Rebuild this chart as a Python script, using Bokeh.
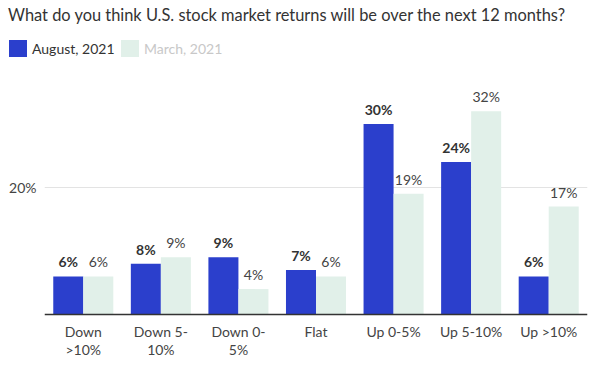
from bokeh.plotting import figure
from bokeh.layouts import column
from bokeh.models import (ColumnDataSource, FactorRange, Range1d, FixedTicker, Span,
                          LabelSet, Div)
from bokeh.core.properties import value
from bokeh.transform import dodge
from bokeh.embed import file_html
from bokeh.resources import INLINE

categories = ["Down >10%", "Down 5-10%", "Down 0-5%", "Flat", "Up 0-5%", "Up 5-10%", "Up >10%"]
tick_line1 = ["Down", "Down 5-", "Down 0-", "Flat", "Up 0-5%", "Up 5-10%", "Up >10%"]
tick_line2 = [">10%", "10%", "5%", "", "", "", ""]
august_2021 = [6, 8, 9, 7, 30, 24, 6]
march_2021 = [6, 9, 4, 6, 19, 32, 17]
y_ticks = [20]
series_names = ["August, 2021", "March, 2021"]
title_text = "What do you think U.S. stock market returns will be over the next 12 months?"

FONT = "Lato"
BLUE = "#2b3fcc"
GREEN = "#e1f0e9"
TXT = "#333333"
LBL = "#444444"

# ---------------- header (title + legend) as HTML ----------------
header_html = f"""
<div style="position:relative;width:592px;height:60px;font-family:'{FONT}',sans-serif;">
  <div style="position:absolute;left:8px;top:4px;font-size:16.4px;line-height:22px;color:{TXT};white-space:nowrap;">{title_text}</div>
  <div style="position:absolute;left:9px;top:40px;width:18px;height:17px;background:{BLUE};"></div>
  <div style="position:absolute;left:32px;top:39px;font-size:14px;line-height:19px;color:{TXT};white-space:nowrap;">{series_names[0]}</div>
  <div style="position:absolute;left:121px;top:40px;width:18px;height:17px;background:{GREEN};"></div>
  <div style="position:absolute;left:144px;top:39px;font-size:14px;line-height:19px;color:#c8c8c8;white-space:nowrap;">{series_names[1]}</div>
</div>
"""
header = Div(text=header_html, width=592, height=60, margin=0)

# ---------------- main chart ----------------
src = ColumnDataSource(dict(
    cat=categories,
    aug=august_2021,
    mar=march_2021,
    aug_lbl=[f"{v}%" for v in august_2021],
    mar_lbl=[f"{v}%" for v in march_2021],
    l1=tick_line1,
    l2=tick_line2,
    zero=[0] * len(categories),
))

p = figure(width=592, height=315, output_backend="svg", toolbar_location=None,
           x_range=FactorRange(*categories, range_padding=0),
           y_range=Range1d(-9.61, 38.43),
           min_border_left=44, min_border_right=5, min_border_top=10, min_border_bottom=0)
p.outline_line_color = None
p.xaxis.visible = False

bw = 0.387
p.vbar(x=dodge("cat", -bw / 2, range=p.x_range), top="aug", width=bw, source=src,
       fill_color=BLUE, line_color=None, legend_label=series_names[0])
p.vbar(x=dodge("cat", bw / 2, range=p.x_range), top="mar", width=bw, source=src,
       fill_color=GREEN, line_color=None, legend_label=series_names[1])
p.legend.visible = False

# baseline (x axis line)
p.add_layout(Span(location=0, dimension="width", line_color=TXT, line_width=1.5))

p.add_layout(LabelSet(x=dodge("cat", -bw / 2, range=p.x_range), y="aug", text="aug_lbl", source=src,
                      text_align="center", text_baseline="bottom", y_offset=6,
                      text_font=value(FONT), text_font_size=value("14px"),
                      text_font_style=value("bold"), text_color=value(TXT)))
p.add_layout(LabelSet(x=dodge("cat", bw / 2, range=p.x_range), y="mar", text="mar_lbl", source=src,
                      text_align="center", text_baseline="bottom", y_offset=6,
                      text_font=value(FONT), text_font_size=value("14px"),
                      text_color=value(LBL)))

# two-line category labels
for col, off in (("l1", 17), ("l2", 35)):
    p.text(x="cat", y="zero", text=col, source=src, y_offset=off,
           text_align="center", text_baseline="middle",
           text_font=value(FONT), text_font_size="14px", text_color=LBL)

# y axis
p.yaxis.ticker = FixedTicker(ticks=y_ticks)
p.yaxis.major_label_overrides = {t: f"{t}%" for t in y_ticks}
p.yaxis.axis_line_color = None
p.yaxis.major_tick_line_color = None
p.yaxis.minor_tick_line_color = None
p.yaxis.major_tick_out = 0
p.yaxis.major_tick_in = 0
p.yaxis.major_label_text_font = FONT
p.yaxis.major_label_text_font_size = "14px"
p.yaxis.major_label_text_color = LBL
p.yaxis.major_label_standoff = 8

p.xgrid.grid_line_color = None
p.ygrid.ticker = FixedTicker(ticks=y_ticks)
p.ygrid.grid_line_color = "#e3e3e3"

layout = column(header, p, spacing=0)
open("out.html", "w").write(file_html(layout, INLINE))
